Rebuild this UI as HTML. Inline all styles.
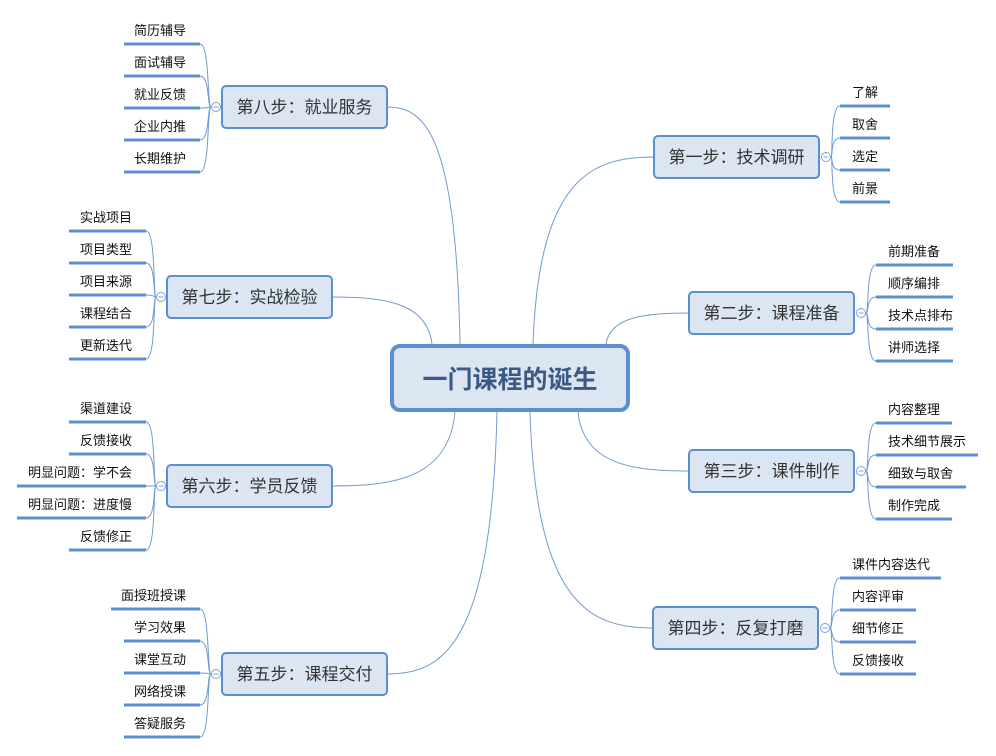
<!DOCTYPE html>
<html><head><meta charset="utf-8"><style>
body{margin:0;background:#fff}
svg{display:block}
text{font-family:"Liberation Sans","Noto Sans CJK SC",sans-serif}
</style></head><body>
<svg id="s" width="996" height="756" xmlns="http://www.w3.org/2000/svg">
<g id="lines" fill="none" stroke="#6f9ad6" stroke-width="1"></g>
<g id="nodes"></g>
</svg>
<script>
var L=document.getElementById('lines'),N=document.getElementById('nodes'),NS='http://www.w3.org/2000/svg';
function el(p,t,a,txt){var e=document.createElementNS(NS,t);for(var k in a)e.setAttribute(k,a[k]);if(txt)e.textContent=txt;p.appendChild(e);return e;}
// centre
var C={x1:390,y1:344,x2:630,y2:412};
var nodes=[
{t:"第八步：就业服务",x:222,y:86,side:-1,c:[460,344],leaves:[["简历辅导",124],["面试辅导",124],["就业反馈",124],["企业内推",124],["长期维护",124]],ly:44,le:200},
{t:"第七步：实战检验",x:167,y:276,side:-1,c:[432,344],leaves:[["实战项目",69],["项目类型",69],["项目来源",69],["课程结合",69],["更新迭代",69]],ly:231,le:146},
{t:"第六步：学员反馈",x:167,y:465,side:-1,c:[455,412],leaves:[["渠道建设",69],["反馈接收",69],["明显问题：学不会",17],["明显问题：进度慢",17],["反馈修正",69]],ly:422,le:146},
{t:"第五步：课程交付",x:222,y:653,side:-1,c:[497,412],leaves:[["面授班授课",111],["学习效果",124],["课堂互动",124],["网络授课",124],["答疑服务",124]],ly:609,le:200},
{t:"第一步：技术调研",x:654,y:136,side:1,c:[533,344],leaves:[["了解",890],["取舍",890],["选定",890],["前景",890]],ly:106,le:840},
{t:"第二步：课程准备",x:689,y:292,side:1,c:[606,344],leaves:[["前期准备",953],["顺序编排",953],["技术点排布",953],["讲师选择",953]],ly:265,le:876},
{t:"第三步：课件制作",x:689,y:450,side:1,c:[578,412],leaves:[["内容整理",952],["技术细节展示",978],["细致与取舍",966],["制作完成",952]],ly:423,le:876},
{t:"第四步：反复打磨",x:653,y:607,side:1,c:[530,412],leaves:[["课件内容迭代",941],["内容评审",916],["细节修正",916],["反馈接收",916]],ly:578,le:840}
];
var W=165,H=42;
nodes.forEach(function(n){
  var cy=n.y+H/2, ex=n.side<0?n.x+W:n.x;
  // line from centre
  var sx=n.c[0],sy=n.c[1];
  var d='M'+sx+','+sy+' C'+sx+','+(sy+(cy-sy)*0.25)+' '+(sx+(ex-sx)*0.2)+','+cy+' '+ex+','+cy;
  if(Math.abs(ex-sx)>60) d='M'+sx+','+sy+' C'+(sx+(ex-sx)*0.05)+','+(sy+(cy-sy)*0.9)+' '+(sx+(ex-sx)*0.5)+','+cy+' '+ex+','+cy;
  el(L,'path',{d:d});
  el(N,'rect',{x:n.x,y:n.y,width:W,height:H,rx:4,fill:'#dce6f2',stroke:'#5b8fd0','stroke-width':2});
  el(N,'text',{x:n.x+W/2,y:cy+6,'text-anchor':'middle','font-size':17,fill:'#333'},n.t);
  var cx=n.side<0?n.x-6:n.x+W+7;
  n.leaves.forEach(function(l,i){
    var y=n.ly+i*32, a=n.side<0?l[1]:n.le, b=n.side<0?n.le:l[1];
    el(N,'line',{x1:a,y1:y,x2:b,y2:y,stroke:'#5b8fd0','stroke-width':3});
    var tx=n.side<0?n.le-14:n.le+12;
    el(N,'text',{x:tx,y:y-9,'text-anchor':n.side<0?'end':'start','font-size':13,fill:'#111'},l[0]);
    var inner=n.side<0?n.le:n.le, bx=inner-n.side*-10;
    var bxx=n.side<0?n.le+10:n.le-10;
    el(L,'path',{d:'M'+inner+','+y+' C'+bxx+','+y+' '+(n.side<0?n.le+7:n.le-7)+','+cy+' '+(cx-n.side*-5)+','+cy});
  });
  el(N,'circle',{cx:cx,cy:cy,r:4.5,fill:'#fff',stroke:'#7aa0d8','stroke-width':1});
  el(N,'line',{x1:cx-2.5,y1:cy,x2:cx+2.5,y2:cy,stroke:'#7aa0d8','stroke-width':1});
});
el(N,'rect',{x:C.x1+2,y:C.y1+2,width:C.x2-C.x1-4,height:C.y2-C.y1-4,rx:8,fill:'#dce6f2',stroke:'#5b8fd0','stroke-width':4});
el(N,'text',{x:510,y:388,'text-anchor':'middle','font-size':25,'font-weight':'bold',fill:'#3a5a85'},'一门课程的诞生');
</script>
</body></html>
